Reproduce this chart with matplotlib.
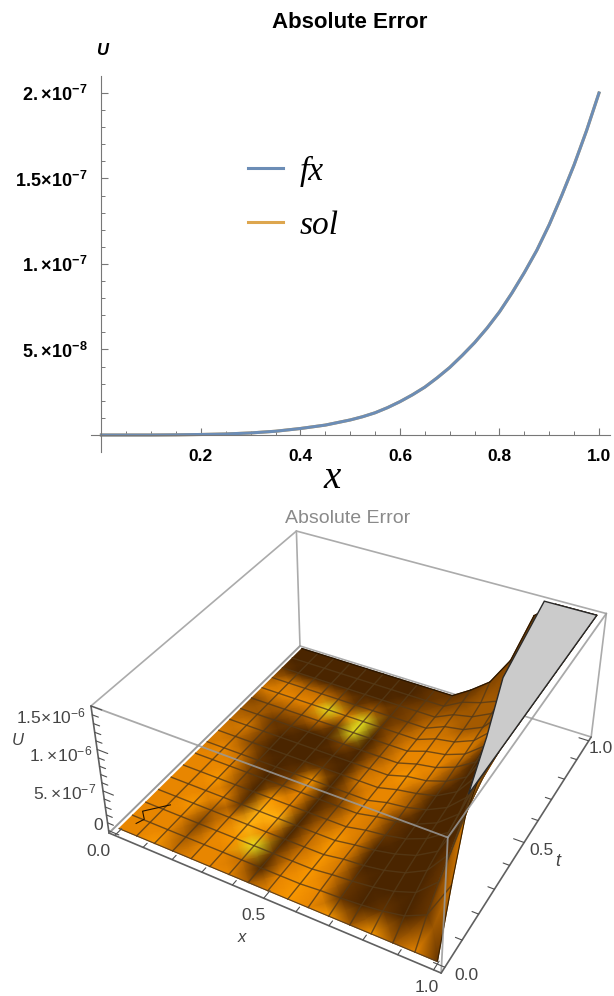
import numpy as np
import matplotlib
matplotlib.use('Agg')
import matplotlib.pyplot as plt
from matplotlib.colors import LinearSegmentedColormap
from matplotlib.patches import Polygon
from matplotlib.ticker import MultipleLocator, NullFormatter

plt.rcParams['font.family'] = ['Liberation Sans', 'DejaVu Sans']
plt.rcParams['mathtext.fontset'] = 'custom'
plt.rcParams['mathtext.rm'] = 'Liberation Sans'
plt.rcParams['mathtext.bf'] = 'Liberation Sans:bold'
plt.rcParams['mathtext.it'] = 'Liberation Sans:italic'

W, H = 614, 996

# top plot: error curve
x_curve = [0, 0.05, 0.1, 0.15, 0.2, 0.25, 0.3, 0.35, 0.4, 0.45, 0.5, 0.525, 0.55, 0.575, 0.6,
           0.625, 0.65, 0.675, 0.7, 0.725, 0.75, 0.775, 0.8, 0.825, 0.85, 0.875, 0.9, 0.925, 0.95, 0.975, 1.0]
fx_curve = [0, 0, 0, 0.1e-9, 0.3e-9, 0.6e-9, 1.2e-9, 2.2e-9, 3.8e-9, 5.8e-9, 8.8e-9, 10.7e-9, 13e-9, 16e-9, 19.5e-9,
            23.5e-9, 28e-9, 33.5e-9, 39.5e-9, 46.5e-9, 54e-9, 62.5e-9, 72e-9, 83e-9, 95e-9, 108e-9, 123e-9, 140e-9, 158e-9, 178e-9, 200e-9]
sol_curve = list(fx_curve)
y_ticks = [5e-8, 1e-7, 1.5e-7, 2e-7]
y_tick_labels = [r'$\mathbf{5.\!\times\!10^{-8}}$', r'$\mathbf{1.\!\times\!10^{-7}}$',
                 r'$\mathbf{1.5\!\times\!10^{-7}}$', r'$\mathbf{2.\!\times\!10^{-7}}$']
x_ticks = [0.2, 0.4, 0.6, 0.8, 1.0]

# bottom plot: mesh is 16 x 16 cells, first row of each table is t = 1
x_mesh = np.linspace(0, 1, 17)
t_mesh = np.linspace(1, 0, 17)
# U in units of 1e-7 for the columns x = 0.625 ... 1.0, the rest of the sheet lies flat on 0
u_right = [
    [1.5, 3.3, 6.8, 13, 15, 15, 15],
    [1.3, 2.0, 3.0, 6.0, 15, 15, 15],
    [1.1, 1.6, 2.8, 5.5, 15, 15, 15],
    [1.0, 1.4, 2.5, 5.0, 14, 15, 15],
    [0.9, 1.3, 2.3, 4.5, 13, 15, 15],
    [0.8, 1.2, 2.1, 4.0, 11, 15, 15],
    [0.7, 1.1, 2.0, 3.5, 9, 15, 15],
    [0.7, 1.0, 1.8, 3.2, 7, 15, 15],
    [0.6, 1.0, 1.6, 3.0, 6, 15, 15],
    [0.6, 0.9, 1.5, 2.7, 5, 14, 15],
    [0.5, 0.8, 1.4, 2.5, 4.5, 12, 15],
    [0.5, 0.8, 1.3, 2.3, 4, 10, 15],
    [0.4, 0.7, 1.2, 2.0, 3.5, 8, 15],
    [0.4, 0.6, 1.0, 1.7, 3, 6, 15],
    [0.3, 0.5, 0.8, 1.3, 2.2, 4.5, 13],
    [0.2, 0.3, 0.5, 0.8, 1.3, 2.5, 7],
    [0, 0, 0, 0, 0, 0, 0],
]
# brightness of the lit sheet, 0 dark brown ... 9 yellow
shade = [
    [0, 0, 0, 0, 0, 0, 0, 0, 1, 1, 1, 2, 2, 2, 1, 0, 0],
    [0, 0, 0, 0, 0, 0, 0, 0, 1, 2, 2, 3, 3, 2, 1, 0, 0],
    [1, 0, 0, 0, 0, 0, 0, 1, 2, 3, 3, 3, 3, 2, 1, 0, 0],
    [3, 5, 4, 4, 3, 1, 3, 1, 2, 4, 4, 3, 3, 2, 1, 0, 0],
    [5, 6, 6, 6, 9, 5, 9, 1, 3, 5, 5, 5, 5, 4, 1, 0, 0],
    [2, 3, 3, 3, 4, 1, 9, 0, 3, 6, 6, 6, 5, 2, 0, 0, 0],
    [3, 3, 1, 1, 0, 0, 2, 0, 3, 6, 6, 6, 3, 0, 0, 0, 0],
    [4, 5, 2, 0, 0, 0, 0, 0, 4, 6, 7, 5, 2, 0, 0, 0, 0],
    [5, 4, 2, 0, 0, 0, 1, 0, 5, 6, 6, 3, 0, 0, 0, 0, 0],
    [5, 6, 4, 1, 0, 1, 7, 0, 3, 6, 6, 3, 0, 0, 0, 0, 1],
    [6, 6, 6, 2, 0, 2, 6, 0, 2, 6, 5, 1, 0, 0, 0, 0, 2],
    [6, 6, 7, 3, 0, 7, 6, 0, 3, 6, 5, 1, 0, 0, 0, 0, 2],
    [6, 6, 6, 6, 1, 8, 8, 0, 4, 7, 5, 0, 0, 0, 0, 0, 3],
    [6, 6, 7, 3, 5, 8, 6, 0, 4, 7, 5, 0, 0, 0, 0, 1, 4],
    [6, 6, 6, 2, 6, 7, 9, 1, 5, 7, 5, 1, 0, 0, 0, 1, 5],
    [6, 6, 6, 3, 6, 6, 4, 0, 6, 7, 6, 1, 0, 1, 0, 1, 4],
    [6, 6, 7, 4, 6, 6, 6, 3, 6, 7, 6, 7, 3, 7, 3, 6, 1],
]
# clipped top of the sheet
cap_x = [1.0, 0.84, 0.885, 0.95, 1.0]
cap_t = [1.0, 1.0, 0.6, 0.35, 0.135]
# thin black squiggle near the origin
squiggle_x = [0.03, 0.04, 0.015, 0.07]
squiggle_t = [0.04, 0.065, 0.09, 0.15]

u_grid = np.zeros((17, 17))
u_grid[:, 10:] = u_right

fig = plt.figure(figsize=(W / 100, H / 100), dpi=100)


def px_axes(left, top, right, bottom):
    return fig.add_axes([left / W, 1 - bottom / H, (right - left) / W, (bottom - top) / H])


# ---- top plot ----
ax = px_axes(91, 76, 610, 452)
x0, x1 = 101.4, 599.0
ax.set_xlim((91 - x0) / (x1 - x0), (610 - x0) / (x1 - x0))
y0, y2 = 435.0, 93.0
per_unit = (y0 - y2) / 2e-7
ax.set_ylim((y0 - 452) / per_unit, (y0 - 76) / per_unit)
ax.plot(x_curve, sol_curve, color='#DDA64E', lw=2.2, label='sol')
ax.plot(x_curve, fx_curve, color='#6C8DB6', lw=2.2, label='fx')
for name in ['top', 'right']:
    ax.spines[name].set_visible(False)
ax.spines['left'].set_position(('data', 0))
ax.spines['bottom'].set_position(('data', 0))
ax.spines['left'].set_color('#777777')
ax.spines['bottom'].set_color('#777777')
ax.set_xticks(x_ticks)
ax.set_xticklabels(['%.1f' % v for v in x_ticks], fontweight='bold', fontsize=12.5)
ax.xaxis.set_minor_locator(MultipleLocator(0.05))
ax.set_yticks(y_ticks)
ax.set_yticklabels(y_tick_labels, fontsize=13)
ax.yaxis.set_minor_locator(MultipleLocator(1e-8))
ax.yaxis.set_minor_formatter(NullFormatter())
ax.tick_params(axis='both', which='major', direction='in', length=5, width=0.8, color='#777777')
ax.tick_params(axis='both', which='minor', direction='in', length=3, width=0.7, color='#777777')
ax.tick_params(axis='x', pad=10)
ax.tick_params(axis='y', pad=10)
handles, labels = ax.get_legend_handles_labels()
ax.legend(handles[::-1], labels[::-1], loc='upper left', bbox_to_anchor=(0.303, 0.788), frameon=False,
          prop={'family': 'Liberation Serif', 'style': 'italic', 'size': 24},
          handlelength=1.05, handletextpad=0.5, labelspacing=0.71, borderpad=0, borderaxespad=0)

# ---- overlay in picture pixels, for titles and the 3D plot ----
ov = fig.add_axes([0, 0, 1, 1])
ov.set_xlim(0, W)
ov.set_ylim(H, 0)
ov.axis('off')
ov.patch.set_alpha(0)

ov.text(350, 22, 'Absolute Error', ha='center', va='center', fontsize=16, fontweight='bold')
ov.text(102, 50, 'U', ha='center', va='center', fontsize=12, fontweight='bold', style='italic')
ov.text(332, 478, 'x', ha='center', va='center', fontsize=28, family='Liberation Serif', style='italic')
ov.text(348, 518, 'Absolute Error', ha='center', va='center', fontsize=14, color='#8a8a8a')

# camera of the 3D box, box coordinates all run 0..1
camera = np.array([[275.7, 253.0, -24.1, 109.0],
                   [15.5, -53.5, -174.1, 833.0],
                   [-0.128, 0.2067, -0.0667, 1.0]])


def box_xy(a, b, c):
    a, b, c = np.broadcast_arrays(np.asarray(a, float), np.asarray(b, float), np.asarray(c, float))
    p = camera @ np.stack([a.ravel(), b.ravel(), c.ravel(), np.ones(a.size)])
    return (p[0] / p[2]).reshape(a.shape), (p[1] / p[2]).reshape(a.shape)


def data_xy(x, t, u):
    # u in units of 1e-7, the plot range has a small padding
    return box_xy(0.02 + 0.96 * np.asarray(x, float), 0.02 + 0.96 * np.asarray(t, float),
                  0.02 + 0.98 * np.asarray(u, float) / 15)


def edge(p, q, **kw):
    xs, ys = box_xy([p[0], q[0]], [p[1], q[1]], [p[2], q[2]])
    ov.plot(xs, ys, solid_capstyle='round', **kw)


grey = dict(color='#ababab', lw=1.2, zorder=1)
# edges behind the sheet
edge((0, 1, 0), (0, 1, 1), **grey)
edge((0, 0, 1), (0, 1, 1), **grey)
edge((0, 1, 1), (1, 1, 1), **grey)
edge((1, 1, 0), (1, 1, 1), **grey)
edge((0, 1, 0), (1, 1, 0), **grey)

# sheet
X_grid, T_grid = np.meshgrid(x_mesh, t_mesh)
sx, sy = data_xy(X_grid, T_grid, u_grid)
sheet_cmap = LinearSegmentedColormap.from_list('sheet', [
    (0.0, '#4a2500'), (1 / 9, '#653400'), (2 / 9, '#824500'), (3 / 9, '#a45a00'), (4 / 9, '#c46e00'),
    (6 / 9, '#e88600'), (7 / 9, '#f89600'), (8 / 9, '#ffb010'), (1.0, '#e4e020')])
ov.pcolormesh(sx, sy, np.array(shade, float), shading='gouraud', cmap=sheet_cmap, vmin=0, vmax=9, zorder=2)
for i in range(1, 16):
    ov.plot(sx[:, i], sy[:, i], color='#553a18', lw=1.0, alpha=0.8, zorder=3)
    ov.plot(sx[i, :], sy[i, :], color='#553a18', lw=1.0, alpha=0.8, zorder=3)
ov.plot(sx[0, :], sy[0, :], color='#2a1600', lw=0.9, zorder=3)
ov.plot(sx[:, 16], sy[:, 16], color='#3a2000', lw=0.8, zorder=3)
ov.plot(sx[-1, :], sy[-1, :], color='#5c4020', lw=0.8, zorder=3)
qx, qy = data_xy(squiggle_x, squiggle_t, np.zeros(4))
ov.plot(qx, qy, color='#201000', lw=0.8, zorder=3)

# clipped top
cx, cy = data_xy(cap_x, cap_t, np.full(5, 15.0))
ov.add_patch(Polygon(np.column_stack([cx, cy]), closed=True, fc='#cbcbcb', ec='#2a2a2a', lw=1.0, zorder=4))

# edges in front of the sheet
front = dict(color='#9a9a9a', lw=1.3, alpha=0.85, zorder=5)
edge((0, 0, 0), (0, 1, 0), color='#9a9a9a', lw=1.4, zorder=5)
edge((0, 0, 1), (1, 0, 1), **front)
edge((1, 0, 1), (1, 1, 1), **front)
edge((1, 0, 1), (1, 0, 0), **front)

# axes with ticks
axis_line = dict(color='#606060', lw=1.2, zorder=5)
edge((0, 0, 0), (1, 0, 0), **axis_line)
edge((1, 0, 0), (1, 1, 0), **axis_line)
edge((0, 0, 0), (0, 0, 1), **axis_line)
tick = dict(color='#505050', lw=0.8, zorder=5)
for k in range(11):
    v = 0.02 + 0.96 * k / 10
    n = 0.018 if k % 5 else 0.03
    edge((v, 0, 0), (v, n, 0), **tick)
    edge((1, v, 0), (1 - n, v, 0), **tick)
for k in range(16):
    v = 0.02 + 0.98 * k / 15
    n = 0.02 if k % 5 else 0.035
    edge((0, 0, v), (n, 0, v), **tick)

label_col = '#444444'
for txt, xt, yt, ha in [(r'$1.5\!\times\!10^{-6}$', 86, 716, 'right'),
                        (r'$1.\!\times\!10^{-6}$', 92, 754, 'right'),
                        (r'$5.\!\times\!10^{-7}$', 96, 792, 'right'),
                        ('0', 98, 825, 'center'),
                        ('0.0', 98, 851, 'center'),
                        ('0.5', 253, 915, 'center'),
                        ('1.0', 427, 987, 'center'),
                        ('0.0', 466, 975, 'center'),
                        ('0.5', 542, 850, 'center'),
                        ('1.0', 601, 748, 'center')]:
    ov.text(xt, yt, txt, ha=ha, va='center', fontsize=12.5, color=label_col, clip_on=False)
ov.text(18, 740, 'U', ha='center', va='center', fontsize=12, style='italic', color=label_col)
ov.text(242, 937, 'x', ha='center', va='center', fontsize=12, style='italic', color=label_col)
ov.text(558, 861, 't', ha='center', va='center', fontsize=13, style='italic', color=label_col)

fig.savefig('out.png', dpi=100)
